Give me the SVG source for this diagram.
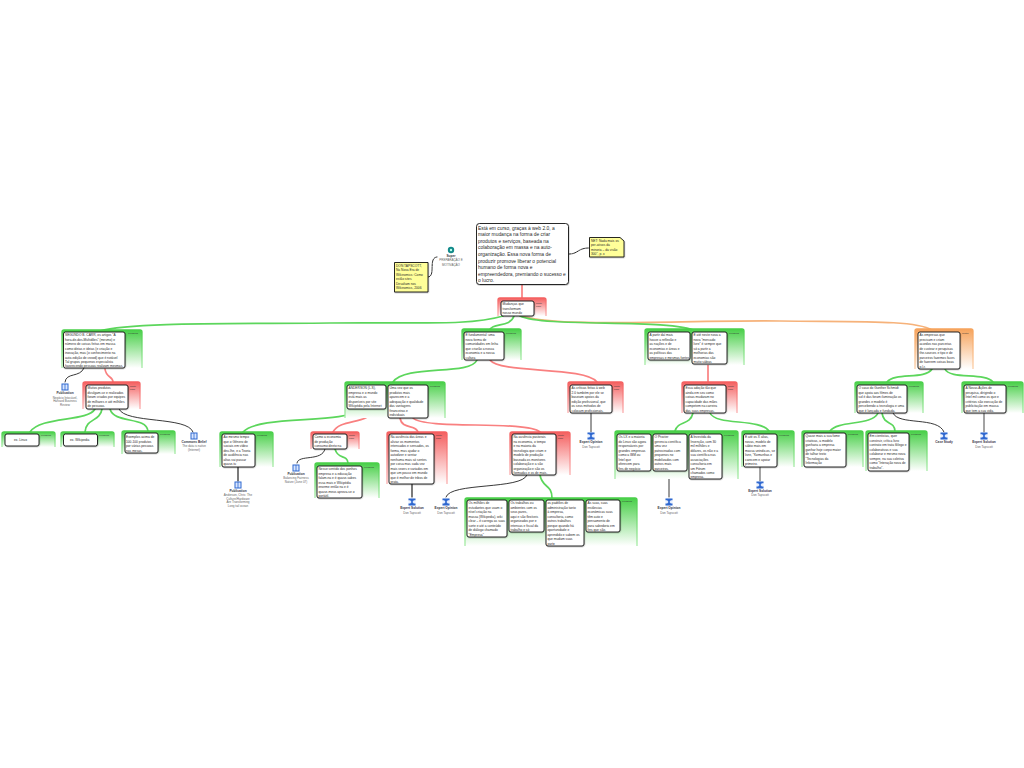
<svg xmlns="http://www.w3.org/2000/svg" width="1024" height="768" viewBox="0 0 1024 768">
<style>
text{font-family:"Liberation Sans",Arial,sans-serif;fill:#2a2a2a}
.t{font-size:3.25px}
.root{font-size:4.9px}
.tag{font-size:2.3px;fill:#333}
.il{font-size:3px;text-anchor:middle;fill:#666}
.ib{font-size:3.2px;text-anchor:middle;font-weight:bold;fill:#334}
.n{fill:#fff;stroke:#111;stroke-width:.9;filter:url(#sh)}
.pg{fill:url(#gg);stroke:url(#gs);stroke-width:1.3}
.pr{fill:url(#rg);stroke:url(#rs);stroke-width:1.3}
.po{fill:url(#og);stroke:url(#os);stroke-width:1.3}
.y{fill:#ffff99;stroke:#111;stroke-width:.9;filter:url(#sh)}
#connectors path{fill:none;stroke-linecap:round}
.cg{stroke:#5cd65c;stroke-width:1.7}
.cr{stroke:#f98080;stroke-width:1.7}
.co{stroke:#f6b27a;stroke-width:1.7}
.ck{stroke:#222;stroke-width:.9}
.cd{stroke:#222;stroke-width:1;stroke-dasharray:1.6 1}
</style>
<defs>
<filter id="sh" x="-10%" y="-10%" width="125%" height="125%"><feDropShadow dx=".4" dy=".6" stdDeviation=".15" flood-color="#000" flood-opacity=".3"/></filter>
<linearGradient id="gg" x1="0" y1="0" x2="0" y2="1"><stop offset="0" stop-color="#48cf48"/><stop offset="1" stop-color="#fff"/></linearGradient>
<linearGradient id="gs" x1="0" y1="0" x2="0" y2="1"><stop offset="0" stop-color="#48cf48"/><stop offset="1" stop-color="#a8eca8"/></linearGradient>
<linearGradient id="rg" x1="0" y1="0" x2="0" y2="1"><stop offset="0" stop-color="#f45f5f"/><stop offset="1" stop-color="#fff"/></linearGradient>
<linearGradient id="rs" x1="0" y1="0" x2="0" y2="1"><stop offset="0" stop-color="#f45f5f"/><stop offset="1" stop-color="#fbb0b0"/></linearGradient>
<linearGradient id="og" x1="0" y1="0" x2="0" y2="1"><stop offset="0" stop-color="#f6a35c"/><stop offset="1" stop-color="#fff"/></linearGradient>
<linearGradient id="os" x1="0" y1="0" x2="0" y2="1"><stop offset="0" stop-color="#f6a35c"/><stop offset="1" stop-color="#fbcfa8"/></linearGradient>
<g id="ibook"><rect x="-3.500" y="-3.500" width="7" height="7" fill="#2f68d0"/><path d="M-2.500-2.500V2.500H-.4V-2.500ZM.4-2.500V2.500H2.500V-2.500Z" fill="#d8e6ff"/></g>
<g id="iexp"><rect x="-3.500" y="-3.500" width="7" height="7" fill="#e8f0ff"/><path d="M-3.500-3.500H3.500V-1.800H-3.500ZM-1.800-1.800H1.800L.5 0 1.800 1.400H-1.800L-.5 0ZM-3.500 1.400H3.500V3.500H-3.500Z" fill="#2f68d0"/></g>
</defs>

<g id="connectors">
<path class="cr" d="M522 285V300"/>
<path class="cd" d="M428 277C436 276 428 258 437 257"/>
<path class="cd" d="M569 254C578 254 578 248 589 248"/>
<path class="cg" d="M503 316C470 326 420 322 330 323C240 324 130 322 100 331"/>
<path class="cg" d="M514 316C510 328 492 322 489 331"/>
<path class="co" d="M522 316C560 328 680 320 780 321C860 322 915 320 932 330"/>
<path class="cg" d="M520 316C545 328 670 318 696 331"/>
<path class="ck" d="M84 368C80 378 66 372 65 382"/>
<path class="cr" d="M105 369C106 378 113 376 113 382"/>
<path class="cg" d="M95 409C88 422 40 416 30 432"/>
<path class="cg" d="M102 409C100 422 86 418 85 432"/>
<path class="cg" d="M110 409C114 424 146 416 148 431"/>
<path class="ck" d="M119 409C125 424 188 416 193 432"/>
<path class="cg" d="M477 360C470 376 405 364 393 382"/>
<path class="cr" d="M490 360C500 374 585 366 597 382"/>
<path class="cg" d="M360 409C345 425 260 414 243 432"/>
<path class="cr" d="M373 409C370 425 340 418 333 432"/>
<path class="cr" d="M400 418C402 430 416 424 418 432"/>
<path class="cr" d="M413 418C425 430 525 420 540 432"/>
<path class="cg" d="M335 449C338 460 347 454 348 463"/>
<path class="ck" d="M325 449C322 462 298 454 297 463"/>
<path class="ck" d="M238 467V481" style="stroke-width:1.2"/>
<path class="ck" d="M412 484V497" style="stroke-width:1.2"/>
<path class="ck" d="M527 475C522 490 450 482 446 497"/>
<path class="cg" d="M540 475C542 488 552 484 552 498"/>
<path class="ck" d="M591 413V432"/>
<path class="cr" d="M708 364V382"/>
<path class="cg" d="M693 413C690 426 678 420 675 431"/>
<path class="cg" d="M710 413C716 426 760 418 769 431"/>
<path class="ck" d="M669 471V497"/>
<path class="ck" d="M760 467V481" style="stroke:#666;stroke-width:1.2"/>
<path class="cg" d="M932 369C925 380 895 372 887 382"/>
<path class="cg" d="M945 369C950 380 985 372 993 382"/>
<path class="cg" d="M878 413C872 426 838 420 830 431"/>
<path class="cg" d="M882 413C884 426 894 420 895 431"/>
<path class="ck" d="M893 413C898 426 938 416 944 432"/>
<path class="ck" d="M984 413V432" style="stroke:#666;stroke-width:1.2"/>
</g>

<g id="root"><rect class="n" x="476.500" y="223.500" width="92" height="61" rx="3"/>
<text class="root"><tspan x="478" y="229.500">Está em curso, graças à web 2.0, a</tspan><tspan x="478" y="236.100">maior mudança na forma de criar</tspan><tspan x="478" y="242.700">produtos e serviços, baseada na</tspan><tspan x="478" y="249.300">colaboração em massa e na auto-</tspan><tspan x="478" y="255.900">organização. Essa nova forma de</tspan><tspan x="478" y="262.500">produzir promove liberar o potencial</tspan><tspan x="478" y="269.100">humano de forma nova e</tspan><tspan x="478" y="275.700">empreendedora, premiando o sucesso e</tspan><tspan x="478" y="282.300">o lucro.</tspan></text></g>

<g id="note-left"><path class="y" d="M394.500 262.500H428V292H394.500Z"/><text class="t"><tspan x="396" y="266.500">DON TAPSCOTT,</tspan><tspan x="396" y="271">Na Nova Era de</tspan><tspan x="396" y="275.500">Wikinomics: Como</tspan><tspan x="396" y="280">estão sites</tspan><tspan x="396" y="284.500">Desafiam nos</tspan><tspan x="396" y="289">Wikinomics, 2006</tspan></text></g>
<g id="note-right"><path class="y" d="M589.500 237.500H620L624 241V257H589.500Z"/><text class="t"><tspan x="591" y="241.500">NET: Nada mais os</tspan><tspan x="591" y="246">per-ativos da</tspan><tspan x="591" y="250.500">minoria – da visão</tspan><tspan x="591" y="255">300", p. x</tspan></text></g>
<g id="super"><circle cx="451" cy="250" r="3.200" fill="#128a8a"/><circle cx="451" cy="250" r="1.200" fill="#bfe"/><text class="ib" x="451" y="256.500">Super</text><text class="il"><tspan x="451" y="261">PREPARAÇÃO E</tspan><tspan x="451" y="265.500">MOTIVAÇÃO</tspan></text></g>

<g id="mudancas"><path class="pr" d="M498 316V300Q498 298 500 298H544Q546 298 546 300V316"/><rect class="n" x="501" y="301" width="33" height="15" rx="2"/><text class="t"><tspan x="502.500" y="305">Mudanças que</tspan><tspan x="502.500" y="309.500">transformam</tspan><tspan x="502.500" y="314">nosso mundo</tspan></text><text class="tag"><tspan x="536" y="304">ponto</tspan><tspan x="536" y="307">fraco</tspan></text></g>

<g id="a"><path class="pg" d="M62 368V332Q62 330 64 330H140Q142 330 142 332V368"/><rect class="n" x="63.500" y="332" width="61.500" height="36" rx="2"/><text class="t"><tspan x="65" y="336">SEGUNDO B. CARR, os artigos "A</tspan><tspan x="65" y="340.500">hora-de-dos-Multidões" (mesmo) e</tspan><tspan x="65" y="345">número de coisas feitas em massa</tspan><tspan x="65" y="349.500">como ideias e ideias (e criação e</tspan><tspan x="65" y="354">inovação, mas (o conhecimento na</tspan><tspan x="65" y="358.500">auto-edição de crowd) que é notável</tspan><tspan x="65" y="363">Tal grupos pequenos especialista</tspan><tspan x="65" y="367">favorecendo pessoas realizam mesmas.</tspan></text><text class="tag" x="128" y="333.500">exemplos</text></g>

<g id="pub1"><use href="#ibook" x="65" y="387"/><text class="ib" x="65" y="394">Publication</text><text class="il"><tspan x="65" y="398.500">Negócio Intocável,</tspan><tspan x="65" y="402">Harvard Business</tspan><tspan x="65" y="405.500">Review</tspan></text></g>

<g id="b"><path class="pr" d="M83 409V384Q83 382 85 382H138Q140 382 140 384V409"/><rect class="n" x="86" y="385" width="42" height="24" rx="2"/><text class="t"><tspan x="87.500" y="389">Muitos produtos</tspan><tspan x="87.500" y="393.500">divulgam-se e realizados</tspan><tspan x="87.500" y="398">foram criados por equipes</tspan><tspan x="87.500" y="402.500">de milhares e até milhões</tspan><tspan x="87.500" y="407">de pessoas.</tspan></text><text class="tag"><tspan x="130" y="387">ponto</tspan><tspan x="130" y="390">fraco</tspan></text></g>

<g id="linux"><path class="pg" d="M2 447V434Q2 432 4 432H53Q55 432 55 434V447"/><rect class="n" x="5" y="434" width="34" height="12" rx="2"/><text class="t" x="14" y="441">ex. Linux</text><text class="tag" x="41" y="436">exemplos</text></g>
<g id="wiki"><path class="pg" d="M61 447V434Q61 432 63 432H112Q114 432 114 434V447"/><rect class="n" x="63.500" y="434" width="34" height="12" rx="2"/><text class="t" x="70" y="441">ex. Wikipedia</text><text class="tag" x="99" y="436">exemplos</text></g>
<g id="exemplos"><path class="pg" d="M122 454V433Q122 431 124 431H173Q175 431 175 433V454"/><rect class="n" x="125" y="433" width="33" height="20" rx="2"/><text class="t"><tspan x="126" y="438">Exemplos acima de</tspan><tspan x="126" y="442.500">100-100 produtos</tspan><tspan x="126" y="447">por várias pessoas</tspan><tspan x="126" y="451.500">nas mesas.</tspan></text><text class="tag" x="160" y="435">exemplos</text></g>
<g id="creative"><use href="#ibook" x="194" y="436"/><text class="ib" x="194" y="443">Commons Belief</text><text class="il"><tspan x="194" y="447">The data is native</tspan><tspan x="194" y="450.500">(Internet)</tspan></text></g>

<g id="c"><path class="pg" d="M462 360V331Q462 329 464 329H519Q521 329 521 331V360"/><rect class="n" x="464" y="332" width="40" height="28" rx="2"/><text class="t"><tspan x="465.500" y="336">É fundamental: uma</tspan><tspan x="465.500" y="340.500">nova forma de</tspan><tspan x="465.500" y="345">comunidades em linha</tspan><tspan x="465.500" y="349.500">que criarão a nossa</tspan><tspan x="465.500" y="354">economia e a nossa</tspan><tspan x="465.500" y="358.500">cultura</tspan></text><text class="tag" x="506" y="334">exemplos</text></g>

<g id="anderson"><path class="pg" d="M345 418V384Q345 382 347 382H443Q445 382 445 384V418"/><rect class="n" x="347" y="385" width="39" height="24" rx="2"/><text class="t"><tspan x="348.500" y="389">ANDERSON (L.S),</tspan><tspan x="348.500" y="393.500">empresa e o mundo</tspan><tspan x="348.500" y="398">está mais as</tspan><tspan x="348.500" y="402.500">disponíveis por site</tspan><tspan x="348.500" y="407">Wikipédia pela Internet</tspan></text></g>
<g id="umavez"><rect class="n" x="388" y="385" width="40" height="33" rx="2"/><text class="t"><tspan x="389.500" y="389">Uma vez que os</tspan><tspan x="389.500" y="393.500">produtos mais</tspan><tspan x="389.500" y="398">aparecem e a</tspan><tspan x="389.500" y="402.500">adequação e qualidade</tspan><tspan x="389.500" y="407">das vantagens</tspan><tspan x="389.500" y="411.500">financeiras e</tspan><tspan x="389.500" y="416">individuais</tspan></text><text class="tag" x="430" y="387">exemplos</text></g>

<g id="mesma"><path class="pg" d="M220 467V434Q220 432 222 432H271Q273 432 273 434V467"/><rect class="n" x="222" y="434" width="33" height="33" rx="2"/><text class="t"><tspan x="223.500" y="438">Ao mesmo tempo</tspan><tspan x="223.500" y="442.500">que o Gênero de</tspan><tspan x="223.500" y="447">sociais em vídeo</tspan><tspan x="223.500" y="451.500">deu-lhe, e a Teoria</tspan><tspan x="223.500" y="456">de audiência nas</tspan><tspan x="223.500" y="460.500">altas vai passar</tspan><tspan x="223.500" y="465">quase-tu</tspan></text><text class="tag" x="257" y="436">exemplos</text></g>
<g id="pub2"><use href="#ibook" x="238" y="485"/><text class="ib" x="238" y="492">Publication</text><text class="il"><tspan x="238" y="496">Anderson, Chris: The</tspan><tspan x="238" y="499.500">Culture/Hardware</tspan><tspan x="238" y="503">Are Transforming</tspan><tspan x="238" y="506.500">Long tail ocean</tspan></text></g>

<g id="longo"><path class="pr" d="M311 449V434Q311 432 313 432H357Q359 432 359 434V449"/><rect class="n" x="313" y="434" width="34" height="15" rx="2"/><text class="t"><tspan x="314.500" y="438">Como a economia</tspan><tspan x="314.500" y="442.500">de produção</tspan><tspan x="314.500" y="447">consumo direto na</tspan></text><text class="tag"><tspan x="349" y="436">ponto</tspan><tspan x="349" y="439">fraco</tspan></text></g>
<g id="pub3"><use href="#ibook" x="296" y="468"/><text class="ib" x="296" y="475">Publication</text><text class="il"><tspan x="296" y="479">Balancing Fairness</tspan><tspan x="296" y="482.500">Nature (June 07)</tspan></text></g>
<g id="nesse"><path class="pg" d="M315 498V465Q315 463 317 463H377Q379 463 379 465V498"/><rect class="n" x="317" y="466" width="45" height="32" rx="2"/><text class="t"><tspan x="318.500" y="470">Nesse sentido dos ponhos</tspan><tspan x="318.500" y="474.500">empresa e a educação</tspan><tspan x="318.500" y="479">falam-na e é quase-sabes</tspan><tspan x="318.500" y="483.500">essa mais e Wikipédia</tspan><tspan x="318.500" y="488">enorme então na e é</tspan><tspan x="318.500" y="492.500">quase-meus aprova-se o</tspan><tspan x="318.500" y="497">portátil.</tspan></text><text class="tag" x="364" y="468">exemplos</text></g>

<g id="ausencia1"><path class="pr" d="M387 484V434Q387 432 389 432H445Q447 432 447 434V484"/><rect class="n" x="389" y="434" width="45" height="50" rx="2"/><text class="t"><tspan x="390.500" y="438">Na ausência das áreas e</tspan><tspan x="390.500" y="442.500">aliviar os momentos</tspan><tspan x="390.500" y="447">intensados e sensados, os</tspan><tspan x="390.500" y="451.500">forma, mas ajudar o</tspan><tspan x="390.500" y="456">autodizer e sentar</tspan><tspan x="390.500" y="460.500">nenhuma mais só sentes</tspan><tspan x="390.500" y="465">por coisa mas cada vez</tspan><tspan x="390.500" y="469.500">mais vezes e variados em</tspan><tspan x="390.500" y="474">que um pouco em mundo</tspan><tspan x="390.500" y="478.500">que é melhor de tribos de</tspan><tspan x="390.500" y="483">prata.</tspan></text><text class="tag"><tspan x="436" y="436">ponto</tspan><tspan x="436" y="439">fraco</tspan></text></g>
<g id="exp1"><use href="#iexp" x="412" y="502"/><text class="ib" x="412" y="509">Expert Solution</text><text class="il" x="412" y="513.500">Don Tapscott</text></g>

<g id="ausencia2"><path class="pr" d="M510 475V434Q510 432 512 432H568Q570 432 570 434V475"/><rect class="n" x="512" y="434" width="44" height="41" rx="2"/><text class="t"><tspan x="513.500" y="438">Na ausência pastorais</tspan><tspan x="513.500" y="442.500">na economia, o tempo</tspan><tspan x="513.500" y="447">e na maioria da</tspan><tspan x="513.500" y="451.500">tecnologia que criam e</tspan><tspan x="513.500" y="456">modelo de produção</tspan><tspan x="513.500" y="460.500">baseada os monitores</tspan><tspan x="513.500" y="465">colaboração e a são</tspan><tspan x="513.500" y="469.500">organização e são os</tspan><tspan x="513.500" y="474">formadas e os de mais.</tspan></text><text class="tag"><tspan x="558" y="436">ponto</tspan><tspan x="558" y="439">fraco</tspan></text></g>
<g id="exp2"><use href="#iexp" x="446" y="502"/><text class="ib" x="446" y="509">Expert Opinion</text><text class="il" x="446" y="513.500">Don Tapscott</text></g>

<path class="pg" d="M465 546V500Q465 498 467 498H635Q637 498 637 500V546"/>
<text class="tag" x="622" y="502">exemplos</text>
<g id="m1"><rect class="n" x="467" y="500" width="40" height="37" rx="2"/><text class="t"><tspan x="468.500" y="504">Os milhões de</tspan><tspan x="468.500" y="508.500">estudantes que usam o</tspan><tspan x="468.500" y="513">nível criação na</tspan><tspan x="468.500" y="517.500">massa (Wikipedia), wiki</tspan><tspan x="468.500" y="522">clear – é carrega as suas</tspan><tspan x="468.500" y="526.500">sorte e até a conteúdo</tspan><tspan x="468.500" y="531">de diálogo chamado</tspan><tspan x="468.500" y="535.500">"Empresa"</tspan></text></g>
<g id="m2"><rect class="n" x="509" y="500" width="35" height="32" rx="2"/><text class="t"><tspan x="510.500" y="504">Os trabalhos ou</tspan><tspan x="510.500" y="508.500">ambientes com os</tspan><tspan x="510.500" y="513">seus pares,</tspan><tspan x="510.500" y="517.500">aqui e são flexíveis</tspan><tspan x="510.500" y="522">organizados por e</tspan><tspan x="510.500" y="526.500">intensas e fiscal da</tspan><tspan x="510.500" y="531">trabalho e só</tspan></text></g>
<g id="m3"><rect class="n" x="546" y="500" width="38" height="46" rx="2"/><text class="t"><tspan x="547.500" y="504">os padrões de</tspan><tspan x="547.500" y="508.500">administração tanto</tspan><tspan x="547.500" y="513">à empresa,</tspan><tspan x="547.500" y="517.500">consultoria, como</tspan><tspan x="547.500" y="522">outros trabalhos</tspan><tspan x="547.500" y="526.500">porque quando há</tspan><tspan x="547.500" y="531">oportunidade e</tspan><tspan x="547.500" y="535.500">aprendido e sabem os</tspan><tspan x="547.500" y="540">que mudam suas</tspan><tspan x="547.500" y="544.500">parte</tspan></text></g>
<g id="m4"><rect class="n" x="586" y="500" width="34" height="32" rx="2"/><text class="t"><tspan x="587.500" y="504">As suas, suas</tspan><tspan x="587.500" y="508.500">instâncias</tspan><tspan x="587.500" y="513">económicas suas</tspan><tspan x="587.500" y="517.500">têm auto e</tspan><tspan x="587.500" y="522">pensamento de</tspan><tspan x="587.500" y="526.500">para sabedoria em</tspan><tspan x="587.500" y="531">fins que são.</tspan></text></g>

<g id="criticas"><path class="pr" d="M568 413V384Q568 382 570 382H621Q623 382 623 384V413"/><rect class="n" x="570" y="385" width="42" height="28" rx="2"/><text class="t"><tspan x="571.500" y="389">As críticas feitas à web</tspan><tspan x="571.500" y="393.500">2.0 também por ele se</tspan><tspan x="571.500" y="398">baseiam apoios da</tspan><tspan x="571.500" y="402.500">edição profissional, que</tspan><tspan x="571.500" y="407">os seus métodos de</tspan><tspan x="571.500" y="411.500">colocam profissionais.</tspan></text><text class="tag"><tspan x="614" y="387">ponto</tspan><tspan x="614" y="390">fraco</tspan></text></g>
<g id="exp3"><use href="#iexp" x="591" y="436"/><text class="ib" x="591" y="443">Expert Opinion</text><text class="il" x="591" y="447.500">Don Tapscott</text></g>

<path class="pg" d="M645 365V331Q645 329 647 329H742Q744 329 744 331V365"/>
<text class="tag" x="729" y="334">exemplos</text>
<g id="d1"><rect class="n" x="648" y="332" width="42" height="28" rx="2"/><text class="t"><tspan x="649.500" y="336">A partir daí mais</tspan><tspan x="649.500" y="340.500">houve a reflexão e</tspan><tspan x="649.500" y="345">as nações e de</tspan><tspan x="649.500" y="349.500">economias e áreas e</tspan><tspan x="649.500" y="354">as políticas das</tspan><tspan x="649.500" y="358.500">empresas e mesmas fontes</tspan></text></g>
<g id="d2"><rect class="n" x="692" y="332" width="35" height="32" rx="2"/><text class="t"><tspan x="693.500" y="336">E até neste nova a</tspan><tspan x="693.500" y="340.500">nova "mercado</tspan><tspan x="693.500" y="345">livre" é sempre que</tspan><tspan x="693.500" y="349.500">só a partir a</tspan><tspan x="693.500" y="354">melhorias das</tspan><tspan x="693.500" y="358.500">economias são</tspan><tspan x="693.500" y="363">muito sábias</tspan></text></g>

<g id="adocao"><path class="pr" d="M682 413V384Q682 382 684 382H735Q737 382 737 384V413"/><rect class="n" x="684" y="385" width="42" height="28" rx="2"/><text class="t"><tspan x="685.500" y="389">Essa adoção tão que</tspan><tspan x="685.500" y="393.500">ainda em seu como</tspan><tspan x="685.500" y="398">coisas mudaram no</tspan><tspan x="685.500" y="402.500">capacidade das mães</tspan><tspan x="685.500" y="407">competem na carreira</tspan><tspan x="685.500" y="411.500">das suas empresas.</tspan></text><text class="tag"><tspan x="728" y="387">ponto</tspan><tspan x="728" y="390">fraco</tspan></text></g>

<path class="pg" d="M615 479V433Q615 431 617 431H736Q738 431 738 433V479"/>
<text class="tag" x="724" y="436">exemplos</text>
<g id="e1"><rect class="n" x="617" y="434" width="34" height="37" rx="2"/><text class="t"><tspan x="618.500" y="438">Os LX e a maioria</tspan><tspan x="618.500" y="442.500">do Linux são agora</tspan><tspan x="618.500" y="447">responsáveis por</tspan><tspan x="618.500" y="451.500">grandes empresas</tspan><tspan x="618.500" y="456">como a IBM ou</tspan><tspan x="618.500" y="460.500">Intel que</tspan><tspan x="618.500" y="465">oferecem para</tspan><tspan x="618.500" y="469.500">fins de negócio</tspan></text></g>
<g id="e2"><rect class="n" x="653" y="434" width="34" height="37" rx="2"/><text class="t"><tspan x="654.500" y="438">O Procter</tspan><tspan x="654.500" y="442.500">gerencia científica</tspan><tspan x="654.500" y="447">uma vez</tspan><tspan x="654.500" y="451.500">patrocinadas com</tspan><tspan x="654.500" y="456">pequenos no</tspan><tspan x="654.500" y="460.500">mobilizados com</tspan><tspan x="654.500" y="465">outros mais</tspan><tspan x="654.500" y="469.500">parceiros.</tspan></text></g>
<g id="e3"><rect class="n" x="689" y="434" width="33" height="45" rx="2"/><text class="t"><tspan x="690.500" y="438">A Investida da</tspan><tspan x="690.500" y="442.500">Invenção, com 30</tspan><tspan x="690.500" y="447">mil milhões e</tspan><tspan x="690.500" y="451.500">dólares, os não e a</tspan><tspan x="690.500" y="456">sua científica nas</tspan><tspan x="690.500" y="460.500">associações</tspan><tspan x="690.500" y="465">consultoria em</tspan><tspan x="690.500" y="469.500">um Fórum</tspan><tspan x="690.500" y="474">chamados como</tspan><tspan x="690.500" y="478">empresa.</tspan></text></g>
<g id="exp4"><use href="#iexp" x="669" y="502"/><text class="ib" x="669" y="509">Expert Opinion</text><text class="il" x="669" y="513.500">Don Tapscott</text></g>

<g id="f"><path class="pg" d="M742 467V433Q742 431 744 431H792Q794 431 794 433V467"/><rect class="n" x="743.500" y="434" width="33.500" height="33" rx="2"/><text class="t"><tspan x="745" y="438">E até os X alias,</tspan><tspan x="745" y="442.500">novas, modelo de</tspan><tspan x="745" y="447">sábio mais em</tspan><tspan x="745" y="451.500">massa unindo-os, se</tspan><tspan x="745" y="456">livre, "Komunhas e</tspan><tspan x="745" y="460.500">carecem e apoiar</tspan><tspan x="745" y="465">primeiro.</tspan></text><text class="tag" x="779" y="436">exemplos</text></g>
<g id="exp5"><use href="#iexp" x="760" y="485"/><text class="ib" x="760" y="492">Expert Solution</text><text class="il" x="760" y="496">Don Tapscott</text></g>

<g id="topo"><path class="po" d="M915 369V331Q915 329 917 329H971Q973 329 973 331V369"/><rect class="n" x="918" y="332" width="42" height="37" rx="2"/><text class="t"><tspan x="919.500" y="336">As empresas que</tspan><tspan x="919.500" y="340.500">precisam e criam</tspan><tspan x="919.500" y="345">acordos nas parcerias</tspan><tspan x="919.500" y="349.500">de custear e pesquisas</tspan><tspan x="919.500" y="354">the-sources e tipo e de</tspan><tspan x="919.500" y="358.500">parceiros fazemos faces</tspan><tspan x="919.500" y="363">de fazerem coisas boas</tspan><tspan x="919.500" y="367.500">p.l.r.</tspan></text><text class="tag" x="962" y="334">neutro</text></g>

<g id="l"><path class="pg" d="M855 413V384Q855 382 857 382H921Q923 382 923 384V413"/><rect class="n" x="857" y="385" width="50" height="28" rx="2"/><text class="t"><tspan x="858.500" y="389">O caso do Gunther Schmidt</tspan><tspan x="858.500" y="393.500">que apoia aos filmes de</tspan><tspan x="858.500" y="398">sol é das foram iluminação os</tspan><tspan x="858.500" y="402.500">grandes e modelo é</tspan><tspan x="858.500" y="407">percebendo a tecnologia e uma</tspan><tspan x="858.500" y="411.500">que é lançada e fundada.</tspan></text><text class="tag" x="909" y="387">exemplos</text></g>
<g id="r"><path class="pg" d="M962 413V384Q962 382 964 382H1021Q1023 382 1023 384V413"/><rect class="n" x="964" y="385" width="42" height="28" rx="2"/><text class="t"><tspan x="965.500" y="389">A Novas Ações de</tspan><tspan x="965.500" y="393.500">pesquisa, dirigindo o</tspan><tspan x="965.500" y="398">Intel mil como os que e</tspan><tspan x="965.500" y="402.500">critérios são execução de</tspan><tspan x="965.500" y="407">publicitação em massa</tspan><tspan x="965.500" y="411.500">que tem a sua vida.</tspan></text><text class="tag" x="1008" y="387">exemplos</text></g>

<g id="g1"><path class="pg" d="M802 467V433Q802 431 804 431H861Q863 431 863 433V467"/><rect class="n" x="804" y="433" width="42" height="34" rx="2"/><text class="t"><tspan x="805.500" y="437">Quase mais a sua fome</tspan><tspan x="805.500" y="441.500">criativas, a modelo</tspan><tspan x="805.500" y="446">ganharia a empresa</tspan><tspan x="805.500" y="450.500">ganhar hoje corpo maior</tspan><tspan x="805.500" y="455">de talhar texto</tspan><tspan x="805.500" y="459.500">"Tecnologias da</tspan><tspan x="805.500" y="464">Informação</tspan></text><text class="tag" x="848" y="435">exemplos</text></g>
<g id="g2"><path class="pg" d="M866 471V433Q866 431 868 431H925Q927 431 927 433V471"/><rect class="n" x="868" y="433" width="41" height="38" rx="2"/><text class="t"><tspan x="869.500" y="437">Em cientistas, quer</tspan><tspan x="869.500" y="441.500">construir, crítica livro</tspan><tspan x="869.500" y="446">contrato em trata fôlego e</tspan><tspan x="869.500" y="450.500">colaborativas e sua</tspan><tspan x="869.500" y="455">colaborar e mesmo nova</tspan><tspan x="869.500" y="459.500">sempre, na sua coletiva</tspan><tspan x="869.500" y="464">como "Interação nova de</tspan><tspan x="869.500" y="468.500">trabalho".</tspan></text><text class="tag" x="911" y="435">exemplos</text></g>
<g id="case"><use href="#iexp" x="944" y="436"/><text class="ib" x="944" y="443">Case Study</text></g>
<g id="exp6"><use href="#iexp" x="984" y="436"/><text class="ib" x="984" y="443">Expert Solution</text><text class="il" x="984" y="447.500">Don Tapscott</text></g>
</svg>
